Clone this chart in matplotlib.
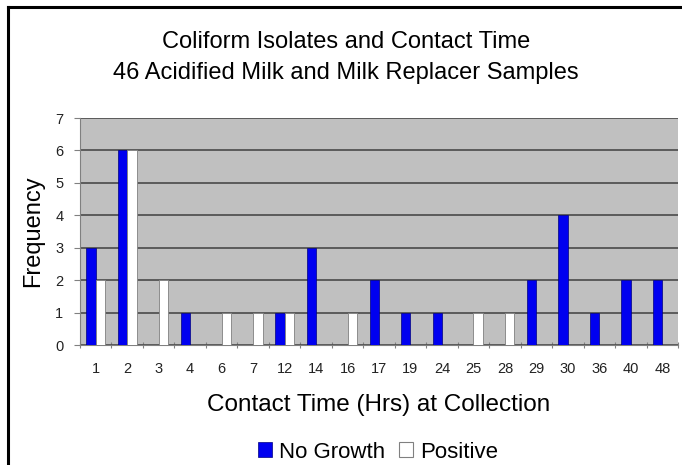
import matplotlib
matplotlib.use("Agg")
import matplotlib.pyplot as plt
import numpy as np
from matplotlib.patches import Patch
from matplotlib.lines import Line2D

# Contact time categories (hours) and counts
contact_hours = ['1', '2', '3', '4', '6', '7', '12', '14', '16', '17',
                 '19', '24', '25', '28', '29', '30', '36', '40', '48']
no_growth = [3, 6, 0, 1, 0, 0, 1, 3, 0, 2, 1, 1, 0, 0, 2, 4, 1, 2, 2]
positive = [2, 6, 2, 0, 1, 1, 1, 0, 1, 0, 0, 0, 1, 1, 0, 0, 0, 0, 0]

plt.rcParams['font.family'] = ['Liberation Sans', 'DejaVu Sans']

fig = plt.figure(figsize=(6.82, 4.65), dpi=100)
ax = fig.add_axes([80 / 682, 1 - 345 / 465, (678 - 80) / 682, (345 - 118) / 465])

x = np.arange(len(contact_hours))
w = 0.3
ax.bar(x - w / 2, no_growth, width=w, color='#0000F0', edgecolor='#000080', linewidth=0.5, zorder=3)
ax.bar(x + w / 2, positive, width=w, color='white', edgecolor='#808080', linewidth=0.6, zorder=3)

ax.set_facecolor('#C0C0C0')
ax.set_xlim(-0.5, len(contact_hours) - 0.5)
ax.set_ylim(0, 7)
ax.set_yticks(range(0, 8))
ax.yaxis.grid(True, color='#4a4a4a', linewidth=1.2)
ax.set_axisbelow(True)
ax.set_xticks(np.arange(-0.5, len(contact_hours), 1.0), minor=False)
ax.set_xticklabels([])
ax.set_xticks(x, minor=True)
ax.set_xticklabels(contact_hours, minor=True)
ax.tick_params(axis='x', which='minor', length=0, labelsize=10.5, pad=12, labelcolor='#222222')
ax.tick_params(axis='x', which='major', length=5, direction='inout', color='#808080')
ax.tick_params(axis='y', length=4, direction='out', color='#808080', labelsize=10.5,
               labelcolor='#222222', pad=8)
for s in ['top', 'right']:
    ax.spines[s].set_visible(False)
for s in ['left', 'bottom']:
    ax.spines[s].set_color('#808080')

ax.set_ylabel('Frequency', fontsize=17, labelpad=8)
ax.set_xlabel('Contact Time (Hrs) at Collection', fontsize=17.5, labelpad=13)

fig.text(0.507, 1 - 42 / 465, 'Coliform Isolates and Contact Time', ha='center', va='center', fontsize=17)
fig.text(0.507, 1 - 73 / 465, '46 Acidified Milk and Milk Replacer Samples', ha='center', va='center', fontsize=17)

handles = [Patch(facecolor='#0000F0', edgecolor='#000080', linewidth=0.5),
           Patch(facecolor='white', edgecolor='#808080', linewidth=0.8)]
fig.legend(handles, ['No Growth', 'Positive'], loc='center', bbox_to_anchor=(0.554, 1 - 452 / 465),
           ncol=2, frameon=False, fontsize=16, handlelength=0.65, handleheight=0.65,
           handletextpad=0.3, columnspacing=0.6)

# border lines along top and left of the figure
fig.add_artist(Line2D([8 / 682, 1], [1 - 7 / 465, 1 - 7 / 465], color='black', linewidth=2.2))
fig.add_artist(Line2D([8 / 682, 8 / 682], [0, 1 - 7 / 465], color='black', linewidth=2.2))

fig.savefig('out.png', dpi=100)
